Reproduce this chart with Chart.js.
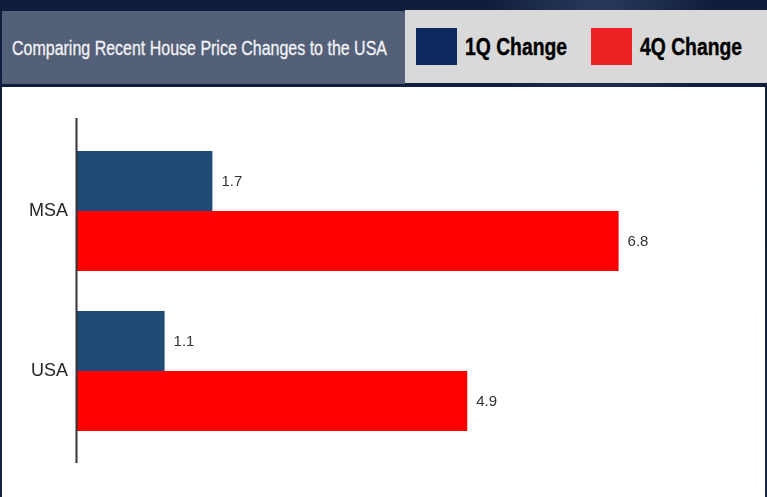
<!DOCTYPE html>
<html>
<head>
<meta charset="utf-8">
<script src="https://cdn.jsdelivr.net/npm/chart.js@4.4.1/dist/chart.umd.min.js"></script>
<style>
	body {
		margin: 0;
		width: 767px;
		height: 497px;
		overflow: hidden;
		position: relative;
		background: radial-gradient(circle at 600px 20px, #2a3b5e 0, rgba(26, 42, 74, 0) 120px),
			linear-gradient(180deg, #0f1d3b 0%, #15264a 100%);
		font-family: "Liberation Sans", Arial, sans-serif;
	}
	#title {
		position: absolute;
		left: 2px;
		top: 11px;
		width: 403px;
		height: 73px;
		background: #546077;
		color: #f2f3f6;
		font-size: 20px;
		line-height: 75px;
		padding-left: 10px;
		box-sizing: border-box;
		white-space: nowrap;
		-webkit-text-stroke: 0.3px #f2f3f6;
	}
	#legend {
		position: absolute;
		left: 405px;
		top: 10px;
		width: 362px;
		height: 73px;
		background: #d9d9d9;
	}
	.item {
		position: absolute;
		top: 18px;
		height: 37px;
		display: flex;
		align-items: center;
		font-weight: bold;
		font-size: 24px;
		color: #000;
		white-space: nowrap;
		-webkit-text-stroke: 0.4px #000;
	}
	.swatch {
		width: 41px;
		height: 37px;
		margin-right: 8px;
		flex: none;
	}
	.narrow {
		display: inline-block;
		transform-origin: left center;
	}
	#panel {
		position: absolute;
		left: 2px;
		top: 87px;
		width: 763px;
		height: 410px;
		background: #fff;
	}
</style>
</head>
<body>
<div id="title"><span class="narrow" data-w="375">Comparing Recent House Price Changes to the USA</span></div>
<div id="legend"></div>
<div id="panel"><canvas id="priceChart" width="763" height="410"></canvas></div>
<script>
// house price change, percent
const categories = ["MSA", "USA"];
const seriesNames = ["1Q Change", "4Q Change"];
const change1Q = [1.7, 1.1];
const change4Q = [6.8, 4.9];

const barColors = ["#1f4a75", "#ff0000"];
const swatchColors = ["#0c2a5e", "#ee2224"];
const swatchLeft = [11, 186];

// header legend built from the series names
const legendBox = document.getElementById("legend");
seriesNames.forEach((name, i) => {
	const item = document.createElement("div");
	item.className = "item";
	item.style.left = swatchLeft[i] + "px";
	const swatch = document.createElement("div");
	swatch.className = "swatch";
	swatch.style.background = swatchColors[i];
	const text = document.createElement("span");
	text.className = "narrow";
	text.dataset.w = 102;
	text.textContent = name;
	item.appendChild(swatch);
	item.appendChild(text);
	legendBox.appendChild(item);
});

// squeeze header text into a condensed look
document.querySelectorAll(".narrow").forEach((el) => {
	const w = el.getBoundingClientRect().width;
	el.style.transform = "scaleX(" + el.dataset.w / w + ")";
});

// vertical axis line, a bit longer than the plot area
const axisLine = {
	id: "axisLine",
	afterDraw(chart) {
		const { ctx, chartArea } = chart;
		ctx.save();
		ctx.strokeStyle = "#333";
		ctx.lineWidth = 2;
		ctx.beginPath();
		ctx.moveTo(chartArea.left - 0.5, chartArea.top - 13);
		ctx.lineTo(chartArea.left - 0.5, chartArea.bottom + 12);
		ctx.stroke();
		ctx.restore();
	},
};

// value printed at the end of each bar
const valueLabels = {
	id: "valueLabels",
	afterDatasetsDraw(chart) {
		const { ctx } = chart;
		ctx.save();
		ctx.font = "15px 'Liberation Sans', Arial, sans-serif";
		ctx.fillStyle = "#333";
		ctx.textBaseline = "middle";
		chart.data.datasets.forEach((ds, i) => {
			chart.getDatasetMeta(i).data.forEach((bar, j) => {
				ctx.fillText(ds.data[j].toFixed(1), bar.x + 9, bar.y + 1);
			});
		});
		ctx.restore();
	},
};

const ctx = document.getElementById("priceChart").getContext("2d");
new Chart(ctx, {
	type: "bar",
	data: {
		labels: categories,
		datasets: [
			{
				label: seriesNames[0],
				data: change1Q,
				backgroundColor: barColors[0],
				barPercentage: 1,
				categoryPercentage: 0.75,
			},
			{
				label: seriesNames[1],
				data: change4Q,
				backgroundColor: barColors[1],
				barPercentage: 1,
				categoryPercentage: 0.75,
			},
		],
	},
	options: {
		indexAxis: "y",
		responsive: false,
		animation: false,
		layout: { padding: { top: 44, bottom: 46, left: 0, right: 11 } },
		plugins: {
			legend: { display: false },
			tooltip: { enabled: false },
		},
		scales: {
			x: { min: 0, max: 8.5, display: false },
			y: {
				grid: { display: false, drawTicks: false },
				border: { display: false },
				ticks: {
					color: "#262626",
					padding: 9,
					font: { family: "'Liberation Sans', Arial, sans-serif", size: 18 },
				},
				afterFit(scale) {
					scale.width = 75;
				},
			},
		},
	},
	plugins: [axisLine, valueLabels],
});
</script>
</body>
</html>
